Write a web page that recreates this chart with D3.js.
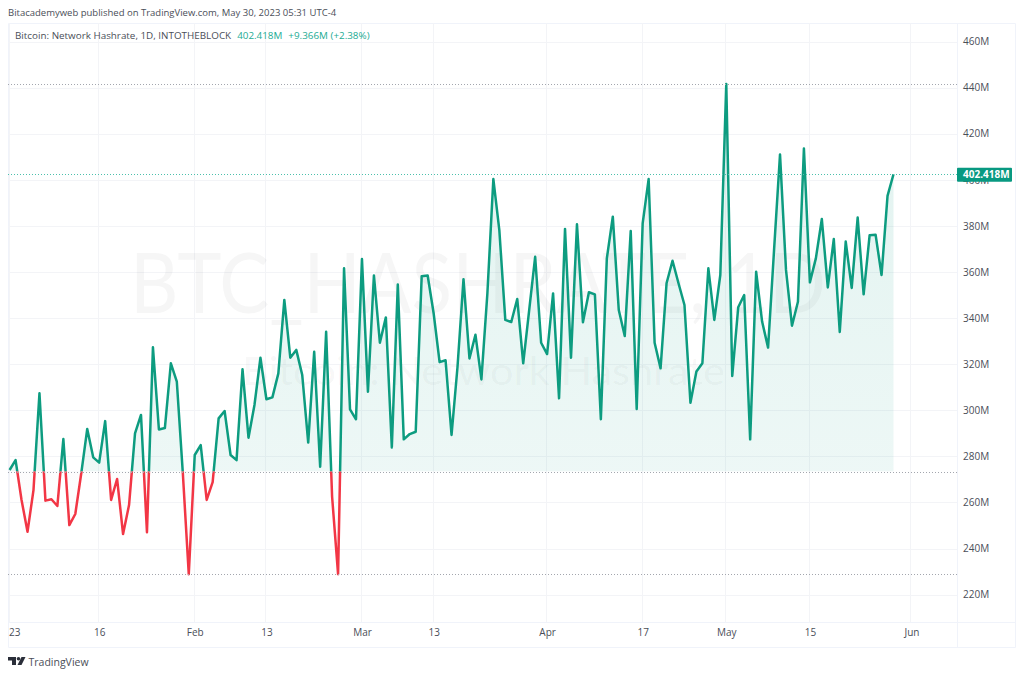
<!DOCTYPE html>
<html><head><meta charset="utf-8">
<script src="https://cdn.jsdelivr.net/npm/d3@7"></script>
<style>
html,body{margin:0;padding:0;background:#fff}
svg{display:block}
text{font-family:"Open Sans","Noto Sans",sans-serif}
</style></head><body>
<svg id="c" width="1024" height="677"></svg>
<script>
const startDate = "2023-01-01";
const hashrate = [
274.1,278.4,261.1,247.3,265.4,307.4,260.8,261.4,258.5,287.5,250.2,255.0,272.7,291.9,279.6,277.3,295.3,261.1,270.2,246.3,
258.9,290.0,298.0,247.1,327.3,291.7,292.3,320.4,312.4,273.0,228.9,280.6,284.9,261.1,268.8,296.5,299.7,280.6,278.4,317.8,
288.1,302.3,322.8,304.8,305.6,316.0,347.9,322.8,326.2,315.3,286.0,325.4,275.5,334.1,262.5,228.9,361.6,300.4,296.1,365.6,
308.1,358.5,329.3,340.3,283.9,354.6,287.4,289.7,290.7,358.2,358.5,342.1,320.9,321.7,289.3,318.9,356.9,322.5,332.8,313.4,
350.7,400.3,378.2,339.2,338.3,348.3,320.4,343.5,366.6,329.3,324.4,350.7,305.2,378.7,322.8,380.7,338.2,351.2,350.3,296.1,
365.9,384.0,343.5,332.2,377.8,300.6,381.1,400.3,329.3,318.2,355.1,364.9,355.1,345.7,303.3,316.8,320.4,361.6,339.2,358.7,
441.6,314.9,344.7,350.0,287.4,360.1,338.5,327.2,369.5,411.0,360.9,336.7,347.1,413.6,355.5,365.9,383.0,353.3,374.3,334.0,
373.2,353.1,383.6,350.3,375.9,376.2,358.7,393.0,402.418];
const priceTicks = [220,240,260,280,300,320,340,360,380,400,420,440,460];
const timeTickDates = ["2023-01-01","2023-01-16","2023-02-01","2023-02-13","2023-03-01","2023-03-13","2023-04-01","2023-04-17","2023-05-01","2023-05-15","2023-06-01"];
const timeTickLabels = ["23","16","Feb","13","Mar","13","Apr","17","May","15","Jun"];
const baselineValue = 273.4, highValue = 441.6, lowValue = 228.9, lastValue = 402.418;

const GREEN="#0d9c80", RED="#f23645", TAG="#089981";
const pane={l:8,r:957,t:23,b:622,outerR:1015,outerB:647};
const svg=d3.select("#c");
const day0=new Date(startDate+"T00:00:00Z");
const dates=hashrate.map((_,i)=>d3.utcDay.offset(day0,i));
const x=d3.scaleUtc().domain([dates[0],dates[dates.length-1]]).range([9.6,893.5]);
const y=d3.scaleLinear().domain([300,440]).range([410.3,87.6]);
const tickD=timeTickDates.map(d=>new Date(d+"T00:00:00Z"));
const yB=y(baselineValue);
const data=hashrate.map((v,i)=>({d:dates[i],v}));

const defs=svg.append("defs");
const gradUp=defs.append("linearGradient").attr("id","up").attr("x1",0).attr("x2",0).attr("y1",0).attr("y2",1);
gradUp.append("stop").attr("offset",0).attr("stop-color",TAG).attr("stop-opacity",.12);
gradUp.append("stop").attr("offset",1).attr("stop-color",TAG).attr("stop-opacity",.06);
const gradDn=defs.append("linearGradient").attr("id","dn").attr("x1",0).attr("x2",0).attr("y1",0).attr("y2",1);
gradDn.append("stop").attr("offset",0).attr("stop-color","#777").attr("stop-opacity",.09);
gradDn.append("stop").attr("offset",1).attr("stop-color","#777").attr("stop-opacity",0);
defs.append("clipPath").attr("id","above").append("rect").attr("x",0).attr("y",0).attr("width",1024).attr("height",yB);
defs.append("clipPath").attr("id","below").append("rect").attr("x",0).attr("y",yB).attr("width",1024).attr("height",677-yB);
defs.append("clipPath").attr("id","pane").append("rect").attr("x",pane.l).attr("y",pane.t).attr("width",pane.r-pane.l).attr("height",pane.b-pane.t);

// frame
const frame="#f0f3fa";
svg.append("path").attr("d",`M${pane.l+.5},${pane.t+.5}H${pane.outerR+.5}V${pane.outerB+.5}H${pane.l+.5}Z`).attr("fill","none").attr("stroke",frame);
svg.append("path").attr("d",`M${pane.r+.5},${pane.t}V${pane.outerB}M${pane.l},${pane.b+.5}H${pane.outerR}`).attr("fill","none").attr("stroke",frame);

// grid
svg.append("g").attr("stroke","#f3f4f7").selectAll("line").data(priceTicks).join("line")
 .attr("x1",pane.l).attr("x2",pane.r).attr("y1",d=>Math.round(y(d))+.5).attr("y2",d=>Math.round(y(d))+.5);
svg.append("g").attr("stroke","#f3f4f7").selectAll("line").data(tickD).join("line")
 .attr("x1",d=>Math.round(x(d))-.5).attr("x2",d=>Math.round(x(d))-.5).attr("y1",pane.t).attr("y2",pane.b);

// watermark
const wm=svg.append("g").attr("fill","#2a2e39").attr("fill-opacity",.045).style("font-family","Lato,sans-serif");
wm.append("text").attr("x",130).attr("y",313).attr("font-size",84).attr("textLength",696).attr("lengthAdjust","spacingAndGlyphs").style("font-family","Lato,sans-serif").text("BTC_HASHRATE, 1D");
wm.append("text").attr("x",242).attr("y",385).attr("font-size",39).attr("textLength",483).attr("lengthAdjust","spacingAndGlyphs").style("font-family","Lato,sans-serif").text("Bitcoin: Network Hashrate");

// areas and lines
const plot=svg.append("g").attr("clip-path","url(#pane)");
const area=d3.area().x(d=>x(d.d)).y0(yB).y1(d=>y(d.v));
const line=d3.line().x(d=>x(d.d)).y(d=>y(d.v));
plot.append("g").attr("clip-path","url(#above)").append("path").datum(data).attr("d",area).attr("fill","url(#up)");
plot.append("g").attr("clip-path","url(#below)").append("path").datum(data).attr("d",area).attr("fill","url(#dn)");
const dots=[[highValue,"#a3a6ae"],[lowValue,"#a3a6ae"],[baselineValue,"#a3a6ae"],[lastValue,"#4cc0ac"]];
svg.append("g").selectAll("line").data(dots).join("line")
 .attr("x1",pane.l).attr("x2",pane.r).attr("y1",d=>Math.round(y(d[0]))+.5).attr("y2",d=>Math.round(y(d[0]))+.5)
 .attr("stroke",d=>d[1]).attr("stroke-dasharray","1 2");
plot.append("g").attr("clip-path","url(#above)").append("path").datum(data).attr("d",line).attr("fill","none").attr("stroke",GREEN).attr("stroke-width",2.5).attr("stroke-linejoin","round");
plot.append("g").attr("clip-path","url(#below)").append("path").datum(data).attr("d",line).attr("fill","none").attr("stroke",RED).attr("stroke-width",2.5).attr("stroke-linejoin","round");

// axes
const yAxis=svg.append("g").attr("transform",`translate(${pane.r},0)`).call(d3.axisRight(y).tickValues(priceTicks).tickSize(0).tickPadding(6).tickFormat(d=>d+"M"));
yAxis.select(".domain").remove();
yAxis.selectAll("text").attr("font-size",10).attr("fill","#4a4e58").style("font-family",'"Open Sans",sans-serif');
const xAxis=svg.append("g").attr("transform",`translate(0,${pane.b})`).call(d3.axisBottom(x).tickValues(tickD).tickSize(0).tickPadding(7).tickFormat((d,i)=>timeTickLabels[i]));
xAxis.select(".domain").remove();
xAxis.selectAll("text").attr("font-size",10).attr("fill","#4a4e58").style("font-family",'"Open Sans",sans-serif');
xAxis.selectAll("text").filter((d,i)=>i===0).attr("text-anchor","start").attr("dx",-1);

// last value tag
svg.append("rect").attr("x",pane.r).attr("y",y(lastValue)-6.5).attr("width",55).attr("height",14).attr("rx",1).attr("fill",TAG);
svg.append("text").attr("x",pane.r+6).attr("y",y(lastValue)+4).attr("font-size",10).attr("font-weight",700).attr("fill","#fff").text(d3.format(".3f")(lastValue)+"M");

// header, legend
svg.append("text").attr("x",8).attr("y",15.5).attr("font-size",9.5).attr("fill","#4a4e58").text("Bitacademyweb published on TradingView.com, May 30, 2023 05:31 UTC-4");
const lg=svg.append("text").attr("x",15).attr("y",39).attr("font-size",9.85).attr("fill","#4a4e58");
lg.append("tspan").text("Bitcoin: Network Hashrate, 1D, INTOTHEBLOCK");
lg.append("tspan").attr("dx",6).attr("fill","#22ab94").text("402.418M");
lg.append("tspan").attr("dx",6).attr("fill","#22ab94").text("+9.366M (+2.38%)");

// logo
const logo=svg.append("g").attr("transform","translate(8,657)").attr("fill","#2a2e39");
logo.append("path").attr("d","M0,0H8V8H4V3.5H0Z");
logo.append("circle").attr("cx",10.5).attr("cy",1.8).attr("r",1.8);
logo.append("path").attr("d","M13.5,0H17.5L13.5,8H9.5Z");
svg.append("text").attr("x",28.5).attr("y",665.5).attr("font-size",10.5).attr("fill","#4a4e58").text("TradingView");
</script>
</body></html>
